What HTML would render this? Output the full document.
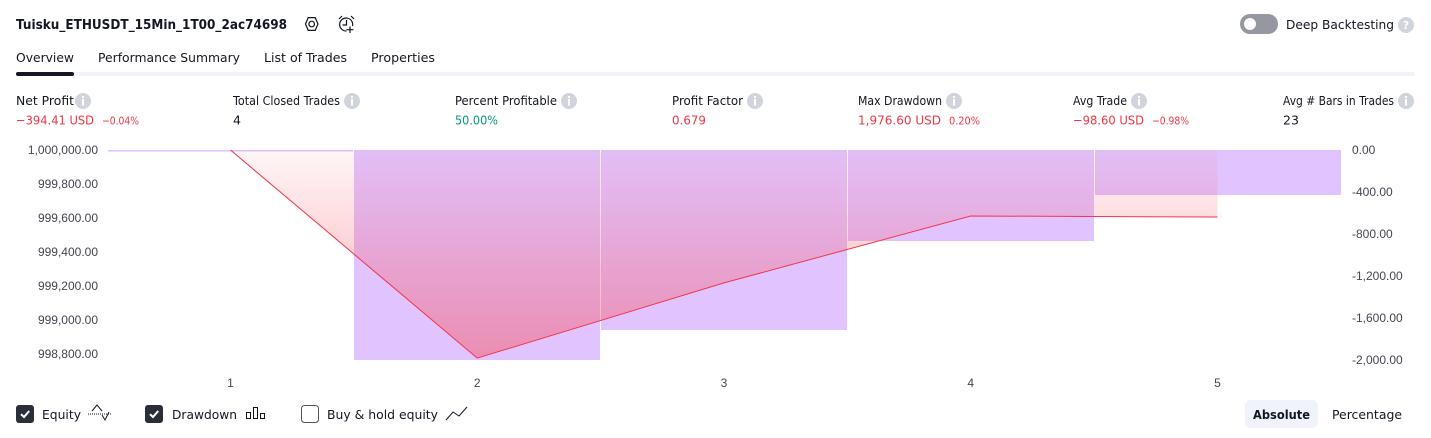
<!DOCTYPE html>
<html lang="en">
<head>
<meta charset="utf-8">
<title>Strategy Overview</title>
<style>
html,body{margin:0;padding:0;background:#fff;width:1431px;height:438px;overflow:hidden}
svg{display:block}
text{font-family:"DejaVu Sans","Liberation Sans",sans-serif;fill:#131722;font-size:12px}
.tab,.lbl{font-size:12.5px}
.val{font-size:12.5px}
.pct{font-size:11px}
.red{fill:#f23645}
.green{fill:#089981}
.tick{font-family:"Liberation Sans",sans-serif;font-size:12px;fill:#434651}
.info{fill:#d1d4dc}
</style>
</head>
<body>
<svg id="root" width="1431" height="438" viewBox="0 0 1431 438" xmlns="http://www.w3.org/2000/svg">
  <defs>
    <linearGradient id="eqGrad" gradientUnits="userSpaceOnUse" x1="0" y1="150" x2="0" y2="358">
      <stop offset="0" stop-color="#f7525f" stop-opacity="0.05"/>
      <stop offset="1" stop-color="#f7525f" stop-opacity="0.48"/>
    </linearGradient>
    <g id="info-glyph">
      <circle cx="0" cy="0" r="8" class="info"/>
      <rect x="-1" y="-2" width="2" height="6.5" fill="#fff"/>
      <rect x="-1" y="-5" width="2" height="2" fill="#fff"/>
    </g>
  </defs>

  <text x="16" y="29" textLength="271" lengthAdjust="spacingAndGlyphs" font-weight="700" style="font-size:13px">Tuisku_ETHUSDT_15Min_1T00_2ac74698</text>
  <g fill="none" stroke="#131722" stroke-width="1.2">
    <path d="M305.5 24 L308.2 17.6 H315.2 L318 24 L315.2 30.4 H308.2 Z"/>
    <circle cx="311.7" cy="24" r="2.8"/>
  </g>
  <g fill="none" stroke="#131722" stroke-width="1.2">
    <path d="M352.5 26 A6.5 6.5 0 1 0 346.5 31"/>
    <path d="M346.5 20 V25 H342.5"/>
    <path d="M339 19 L342 16 M351 16 L354 19"/>
    <path d="M350 26.5 V33 M346.5 29.7 H353.5"/>
  </g>

  <g>
    <rect x="1240" y="14" width="38" height="20" rx="10" fill="#9598a1"/>
    <circle cx="1250" cy="24" r="6" fill="#fff"/>
  </g>
  <text x="1286" y="29" textLength="108" lengthAdjust="spacingAndGlyphs" class="tab">Deep Backtesting</text>
  <g>
    <circle cx="1406" cy="25" r="8" class="info"/>
    <text x="1406" y="29" text-anchor="middle" font-weight="700" style="font-size:11px;fill:#fff">?</text>
  </g>

  <rect x="16" y="72" width="1399" height="4" rx="2" fill="#f0f3fa"/>
  <rect x="16" y="72" width="58" height="4" rx="2" fill="#131722"/>
  <text x="16" y="62" textLength="58" lengthAdjust="spacingAndGlyphs" class="tab">Overview</text>
  <text x="98" y="62" textLength="142" lengthAdjust="spacingAndGlyphs" class="tab">Performance Summary</text>
  <text x="264" y="62" textLength="83" lengthAdjust="spacingAndGlyphs" class="tab">List of Trades</text>
  <text x="371" y="62" textLength="64" lengthAdjust="spacingAndGlyphs" class="tab">Properties</text>

  <text x="16" y="105" textLength="58" lengthAdjust="spacingAndGlyphs" class="lbl">Net Profit</text>
  <use href="#info-glyph" x="83" y="101"/>
  <text x="16" y="124.5" textLength="78" lengthAdjust="spacingAndGlyphs" class="val red">−394.41 USD</text>
  <text x="102" y="124.5" textLength="37" lengthAdjust="spacingAndGlyphs" class="pct red">−0.04%</text>

  <text x="233" y="105" textLength="107" lengthAdjust="spacingAndGlyphs" class="lbl">Total Closed Trades</text>
  <use href="#info-glyph" x="352" y="101"/>
  <text x="233" y="124.5" class="val">4</text>

  <text x="455" y="105" textLength="102" lengthAdjust="spacingAndGlyphs" class="lbl">Percent Profitable</text>
  <use href="#info-glyph" x="569" y="101"/>
  <text x="455" y="124.5" textLength="43" lengthAdjust="spacingAndGlyphs" class="val green">50.00%</text>

  <text x="672" y="105" textLength="71" lengthAdjust="spacingAndGlyphs" class="lbl">Profit Factor</text>
  <use href="#info-glyph" x="755" y="101"/>
  <text x="672" y="124.5" textLength="34" lengthAdjust="spacingAndGlyphs" class="val red">0.679</text>

  <text x="858" y="105" textLength="84" lengthAdjust="spacingAndGlyphs" class="lbl">Max Drawdown</text>
  <use href="#info-glyph" x="954" y="101"/>
  <text x="858" y="124.5" textLength="83" lengthAdjust="spacingAndGlyphs" class="val red">1,976.60 USD</text>
  <text x="949" y="124.5" textLength="31" lengthAdjust="spacingAndGlyphs" class="pct red">0.20%</text>

  <text x="1073" y="105" textLength="54" lengthAdjust="spacingAndGlyphs" class="lbl">Avg Trade</text>
  <use href="#info-glyph" x="1139" y="101"/>
  <text x="1073" y="124.5" textLength="71" lengthAdjust="spacingAndGlyphs" class="val red">−98.60 USD</text>
  <text x="1152" y="124.5" textLength="37" lengthAdjust="spacingAndGlyphs" class="pct red">−0.98%</text>

  <text x="1283" y="105" textLength="111" lengthAdjust="spacingAndGlyphs" class="lbl">Avg # Bars in Trades</text>
  <use href="#info-glyph" x="1406" y="101"/>
  <text x="1283" y="124.5" class="val">23</text>

  <g id="chart"></g>

  <g>
    <rect x="16" y="405" width="18" height="18" rx="3" fill="#2a2e39"/>
    <path d="M21 414.2 L24 417 L29.2 411" fill="none" stroke="#fff" stroke-width="2"/>
  </g>
  <text x="42" y="419" textLength="39" lengthAdjust="spacingAndGlyphs" class="lbl">Equity</text>
  <g fill="none" stroke="#131722" stroke-width="1">
    <path d="M88 414 H112" stroke-dasharray="1 1"/>
    <path d="M92 411 L97 405 L102 411 M102 415 L105 420 L109 412"/>
  </g>

  <g>
    <rect x="145" y="405" width="18" height="18" rx="3" fill="#2a2e39"/>
    <path d="M150 414.2 L153 417 L158.2 411" fill="none" stroke="#fff" stroke-width="2"/>
  </g>
  <text x="172" y="419" textLength="65" lengthAdjust="spacingAndGlyphs" class="lbl">Drawdown</text>
  <g fill="none" stroke="#131722" stroke-width="1">
    <rect x="246.5" y="412.5" width="4" height="6"/>
    <rect x="253.5" y="407.5" width="4" height="11"/>
    <rect x="260.5" y="413.5" width="4" height="5"/>
  </g>

  <rect x="301.5" y="405.5" width="17" height="17" rx="3" fill="#fff" stroke="#50535e"/>
  <text x="327" y="419" textLength="111" lengthAdjust="spacingAndGlyphs" class="lbl">Buy &amp; hold equity</text>
  <path d="M446 420 L453 412 L459 416 L467 407" fill="none" stroke="#131722"/>

  <g>
    <rect x="1245" y="400" width="73" height="28" rx="6" fill="#f0f3fa"/>
    <text x="1253" y="419" textLength="57" lengthAdjust="spacingAndGlyphs" font-weight="700" class="lbl">Absolute</text>
  </g>
  <text x="1332" y="419" textLength="70" lengthAdjust="spacingAndGlyphs" class="lbl">Percentage</text>
</svg>

<script>
var tradeLabels = [1, 2, 3, 4, 5];
var equityValues = [1000000, 998776, 999218, 999612, 999606];
var drawdownValues = [-15, -2000, -1714, -867, -429];
var equityTicks = [1000000, 999800, 999600, 999400, 999200, 999000, 998800];
var drawdownTicks = [0, -400, -800, -1200, -1600, -2000];

var NS = 'http://www.w3.org/2000/svg';
var chart = document.getElementById('chart');

function yEquity(v) { return 150 + (1000000 - v) * 0.17; }
function yDrawdown(v) { return 150 - v * 0.105; }
function bandLeft(i) { return Math.round(107.5 + i * 246.75); }
function bandCenter(i) { return 107.1 + (i + 0.5) * 246.75; }
function fmt(v) {
  return v.toLocaleString('en-US', { minimumFractionDigits: 2, maximumFractionDigits: 2 });
}
function make(tag, attrs, text) {
  var el = document.createElementNS(NS, tag);
  for (var k in attrs) { el.setAttribute(k, attrs[k]); }
  if (text !== undefined) { el.textContent = text; }
  chart.appendChild(el);
  return el;
}

drawdownValues.forEach(function (v, i) {
  var left = bandLeft(i);
  var right = i === drawdownValues.length - 1 ? 1341 : bandLeft(i + 1) - 1;
  var bar = make('rect', { x: left, y: 150, width: right - left, height: yDrawdown(v) - 150, fill: '#e1c4ff' });
  
  
});

var linePts = equityValues.map(function (v, i) { return bandCenter(i).toFixed(1) + ',' + yEquity(v).toFixed(1); });
var areaPts = linePts.slice();
areaPts.push(bandCenter(equityValues.length - 1).toFixed(1) + ',150');
areaPts.unshift(bandCenter(0).toFixed(1) + ',150');

var area = make('polygon', { points: areaPts.join(' '), fill: 'url(#eqGrad)' });



var line = make('polyline', { points: linePts.join(' '), fill: 'none', stroke: '#f23645', 'stroke-width': 1 });



equityTicks.forEach(function (v) {
  var t = make('text', { x: 98, y: yEquity(v) + 4, 'text-anchor': 'end', 'class': 'tick' }, fmt(v));
  
  
});

drawdownTicks.forEach(function (v) {
  var t = make('text', { x: 1352, y: yDrawdown(v) + 4, 'class': 'tick' }, fmt(v));
  
  
});

tradeLabels.forEach(function (v, i) {
  var t = make('text', { x: bandCenter(i), y: 387, 'text-anchor': 'middle', 'class': 'tick' }, String(v));
  
  
});
</script>
</body>
</html>
